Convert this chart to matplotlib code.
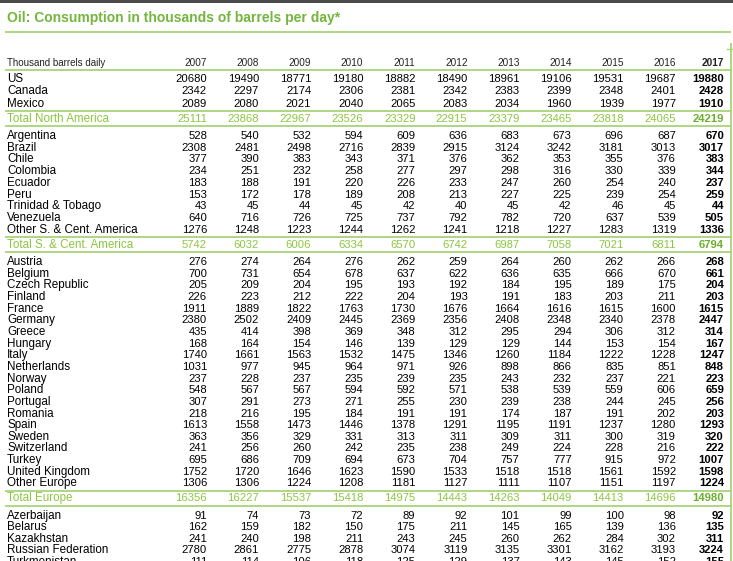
import matplotlib
matplotlib.use("Agg")
import matplotlib.pyplot as plt

years = ["2007", "2008", "2009", "2010", "2011", "2012", "2013", "2014", "2015", "2016", "2017"]

na_names = ["US", "Canada", "Mexico"]
na_values = [
    [20680, 19490, 18771, 19180, 18882, 18490, 18961, 19106, 19531, 19687, 19880],
    [2342, 2297, 2174, 2306, 2381, 2342, 2383, 2399, 2348, 2401, 2428],
    [2089, 2080, 2021, 2040, 2065, 2083, 2034, 1960, 1939, 1977, 1910],
]
na_total = [25111, 23868, 22967, 23526, 23329, 22915, 23379, 23465, 23818, 24065, 24219]

sa_names = ["Argentina", "Brazil", "Chile", "Colombia", "Ecuador", "Peru",
            "Trinidad & Tobago", "Venezuela", "Other S. & Cent. America"]
sa_values = [
    [528, 540, 532, 594, 609, 636, 683, 673, 696, 687, 670],
    [2308, 2481, 2498, 2716, 2839, 2915, 3124, 3242, 3181, 3013, 3017],
    [377, 390, 383, 343, 371, 376, 362, 353, 355, 376, 383],
    [234, 251, 232, 258, 277, 297, 298, 316, 330, 339, 344],
    [183, 188, 191, 220, 226, 233, 247, 260, 254, 240, 237],
    [153, 172, 178, 189, 208, 213, 227, 225, 239, 254, 259],
    [43, 45, 44, 45, 42, 40, 45, 42, 46, 45, 44],
    [640, 716, 726, 725, 737, 792, 782, 720, 637, 539, 505],
    [1276, 1248, 1223, 1244, 1262, 1241, 1218, 1227, 1283, 1319, 1336],
]
sa_total = [5742, 6032, 6006, 6334, 6570, 6742, 6987, 7058, 7021, 6811, 6794]

eu_names = ["Austria", "Belgium", "Czech Republic", "Finland", "France", "Germany",
            "Greece", "Hungary", "Italy", "Netherlands", "Norway", "Poland",
            "Portugal", "Romania", "Spain", "Sweden", "Switzerland", "Turkey",
            "United Kingdom", "Other Europe"]
eu_values = [
    [276, 274, 264, 276, 262, 259, 264, 260, 262, 266, 268],
    [700, 731, 654, 678, 637, 622, 636, 635, 666, 670, 661],
    [205, 209, 204, 195, 193, 192, 184, 195, 189, 175, 204],
    [226, 223, 212, 222, 204, 193, 191, 183, 203, 211, 203],
    [1911, 1889, 1822, 1763, 1730, 1676, 1664, 1616, 1615, 1600, 1615],
    [2380, 2502, 2409, 2445, 2369, 2356, 2408, 2348, 2340, 2378, 2447],
    [435, 414, 398, 369, 348, 312, 295, 294, 306, 312, 314],
    [168, 164, 154, 146, 139, 129, 129, 144, 153, 154, 167],
    [1740, 1661, 1563, 1532, 1475, 1346, 1260, 1184, 1222, 1228, 1247],
    [1031, 977, 945, 964, 971, 926, 898, 866, 835, 851, 848],
    [237, 228, 237, 235, 239, 235, 243, 232, 237, 221, 223],
    [548, 567, 567, 594, 592, 571, 538, 539, 559, 606, 659],
    [307, 291, 273, 271, 255, 230, 239, 238, 244, 245, 256],
    [218, 216, 195, 184, 191, 191, 174, 187, 191, 202, 203],
    [1613, 1558, 1473, 1446, 1378, 1291, 1195, 1191, 1237, 1280, 1293],
    [363, 356, 329, 331, 313, 311, 309, 311, 300, 319, 320],
    [241, 256, 260, 242, 235, 238, 249, 224, 228, 216, 222],
    [695, 686, 709, 694, 673, 704, 757, 777, 915, 972, 1007],
    [1752, 1720, 1646, 1623, 1590, 1533, 1518, 1518, 1561, 1592, 1598],
    [1306, 1306, 1224, 1208, 1181, 1127, 1111, 1107, 1151, 1197, 1224],
]
eu_total = [16356, 16227, 15537, 15418, 14975, 14443, 14263, 14049, 14413, 14696, 14980]

cis_names = ["Azerbaijan", "Belarus", "Kazakhstan", "Russian Federation", "Turkmenistan"]
cis_values = [
    [91, 74, 73, 72, 89, 92, 101, 99, 100, 98, 92],
    [162, 159, 182, 150, 175, 211, 145, 165, 139, 136, 135],
    [241, 240, 198, 211, 243, 245, 260, 262, 284, 302, 311],
    [2780, 2861, 2775, 2878, 3074, 3119, 3135, 3301, 3162, 3193, 3224],
    [111, 114, 106, 118, 125, 129, 137, 143, 145, 152, 155],
]

groups = [
    (na_names, na_values, "Total North America", na_total, 12.5),
    (sa_names, sa_values, "Total S. & Cent. America", sa_total, 11.7),
    (eu_names, eu_values, "Total Europe", eu_total, 11.65),
    (cis_names, cis_values, None, None, 11.4),
]

# colours / fonts
green_title = "#74b53c"
green_total = "#8cc63f"
green_total_b = "#6cad2e"
green_line = "#a8d37a"
FONT = "Liberation Sans"
fs = 8.1
fs_label = 8.4

W, H = 733, 561
fig = plt.figure(figsize=(W / 100, H / 100), dpi=100)
ax = fig.add_axes([0, 0, 1, 1])
ax.set_xlim(0, W)
ax.set_ylim(H, 0)
ax.axis("off")

label_x = 7
col_x = [207 + 52.1 * i for i in range(10)] + [724]
line_x0, line_x1 = 5, 731


def hline(y):
    ax.plot([line_x0, line_x1], [y, y], color=green_line, lw=1.3, solid_capstyle="butt")


def row(y, name, vals, color="black", bold_color="black"):
    ax.text(label_x, y, name, ha="left", va="center", fontsize=fs_label, color=color, family=FONT)
    for i, v in enumerate(vals):
        last = i == len(vals) - 1
        ax.text(col_x[i], y, str(v), ha="right", va="center", fontsize=fs,
                color=bold_color if last else color,
                fontweight="bold" if last else "normal", family=FONT)


# top border and title
ax.axhspan(0, 2.7, color="#4a4a4a", lw=0)
ax.text(7, 18, "Oil: Consumption in thousands of barrels per day*", ha="left", va="center",
        fontsize=10, fontweight="bold", color=green_title, family=FONT)
hline(31.7)
ax.plot([line_x1, line_x1], [44, H], color=green_line, lw=1.3)
ax.plot([727, W], [49, 49], color=green_line, lw=1.0)

# header
header_y = 62.5
ax.text(label_x, header_y, "Thousand barrels daily", ha="left", va="center",
        fontsize=7, color="#222222", family=FONT)
for i, yr in enumerate(years):
    last = i == len(years) - 1
    ax.text(col_x[i], header_y, yr, ha="right", va="center", fontsize=7.2,
            color="#222222", fontweight="bold" if last else "normal", family=FONT)
hline(70)

y = 78.5
for names, values, tname, tvals, pitch in groups:
    for k, (n, v) in enumerate(zip(names, values)):
        row(y, n, v)
        if k < len(names) - 1:
            y += pitch
    if tname is not None:
        hline(y + 7.5)
        row(y + 15, tname, tvals, color=green_total, bold_color=green_total_b)
        hline(y + 22.5)
        y += 32.5

fig.savefig("out.png", dpi=100)
